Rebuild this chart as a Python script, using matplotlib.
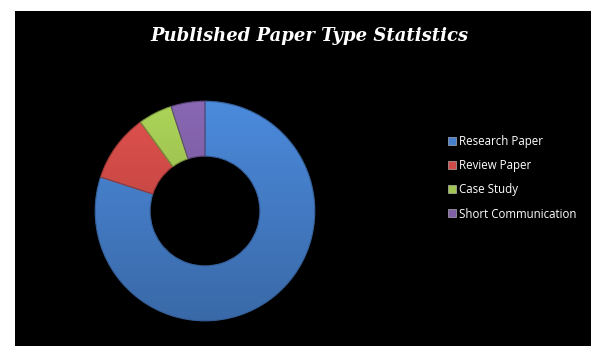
import matplotlib
matplotlib.use("Agg")
import numpy as np
import matplotlib.pyplot as plt
from matplotlib.colors import to_rgb
from matplotlib.patches import Rectangle

title = "Published Paper Type Statistics"
categories = ["Research Paper", "Review Paper", "Case Study", "Short Communication"]
values = [80, 10, 5, 5]
colors = ["#4680cc", "#d04b47", "#a0c552", "#7f60a6"]

W, H, DPI = 609, 356, 100
fig = plt.figure(figsize=(W / DPI, H / DPI), dpi=DPI, facecolor="white")

# black chart area
bg = fig.add_axes([15 / W, 1 - 346 / H, (591 - 15) / W, (346 - 11) / H])
bg.set_facecolor("black")
bg.set_xticks([]); bg.set_yticks([])
for s in bg.spines.values():
    s.set_visible(False)

# doughnut
R = 110
cx, cy = 205, 211
ax = fig.add_axes([(cx - R - 2) / W, 1 - (cy + R + 2) / H, (2 * R + 4) / W, (2 * R + 4) / H])
ax.set_facecolor("none")
ax.axis("off")
wedges, _ = ax.pie(values, colors=colors, startangle=90, counterclock=False,
                   radius=1.0, wedgeprops=dict(width=0.5, edgecolor="none"))

# vertical shading on each segment: lighter at the top, darker at the bottom
shade = np.linspace(0.82, 1.08, 256)[:, None]
for w, col in zip(wedges, colors):
    rgb = np.array(to_rgb(col))
    img = np.clip(shade[..., None] * rgb[None, None, :], 0, 1)
    img = np.repeat(img, 2, axis=1)
    im = ax.imshow(img, extent=(-1, 1, -1, 1), origin="lower", zorder=2,
                   interpolation="bilinear")
    im.set_clip_path(w)
    w.set_facecolor("none")
    w.set_edgecolor(tuple(rgb * 0.75))
    w.set_linewidth(0.8)
    w.set_zorder(3)

ax.set_xlim(-1.02, 1.02); ax.set_ylim(-1.02, 1.02)
ax.set_aspect("equal")

fig.text(309 / W, 1 - 36 / H, title, color="white", ha="center", va="center",
         fontsize=13, fontweight="bold", fontstyle="italic", family="DejaVu Serif")

# legend
for i, (lab, col) in enumerate(zip(categories, colors)):
    y = 141 + i * 24
    fig.patches.append(Rectangle((448 / W, 1 - (y + 4) / H), 8 / W, 8 / H,
                                 transform=fig.transFigure, facecolor=col,
                                 edgecolor="#cccccc", linewidth=0.4))
    fig.text(459 / W, 1 - (y + 1) / H, lab, color="white", ha="left", va="center",
             fontsize=8.3, family="Open Sans")

fig.savefig("out.png", dpi=DPI, facecolor="white")
